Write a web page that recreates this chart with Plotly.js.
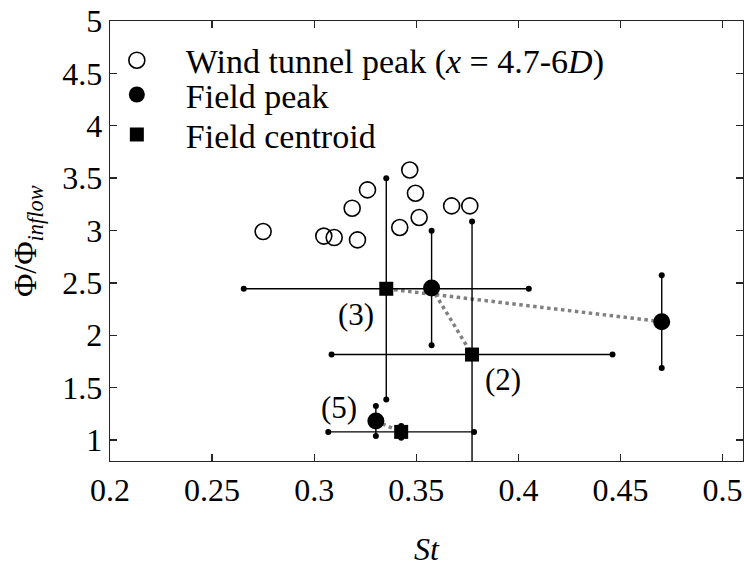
<!DOCTYPE html>
<html>
<head>
<meta charset="utf-8">
<script src="https://cdn.plot.ly/plotly-3.0.1.min.js"></script>
<style>html,body{margin:0;padding:0;background:#fff;}#chart{width:744px;height:567px;}</style>
</head>
<body>
<div id="chart"></div>
<script>
// Wind tunnel peaks (x = 4.7-6D)
const wtSt  = [0.2750, 0.3047, 0.3098, 0.3212, 0.3186, 0.3261, 0.3468, 0.3496, 0.3514, 0.3419, 0.3673, 0.3762];
const wtPhi = [2.990, 2.947, 2.933, 2.911, 3.213, 3.388, 3.578, 3.356, 3.124, 3.029, 3.235, 3.235];

// Field cases
const caseLabels = ['(3)', '(2)', '(5)'];
const peakSt     = [0.4702, 0.3575, 0.3302];
const peakPhi    = [2.130, 2.451, 1.181];
const peakPhiErr = [0.443, 0.547, 0.143];
const centSt     = [0.3353, 0.3773, 0.3426];
const centStErr  = [0.0698, 0.0688, 0.0357];
const centPhi    = [2.444, 1.816, 1.078];
const centPhiErr = [1.056, 1.270, 0.055];
const labelSt    = [0.3204, 0.3924, 0.3121];
const labelPhi   = [2.197, 1.577, 1.310];

// Axis ticks
const xTickVals = [0.2, 0.25, 0.3, 0.35, 0.4, 0.45, 0.5];
const xTickText = ['0.2', '0.25', '0.3', '0.35', '0.4', '0.45', '0.5'];
const yTickVals = [1, 1.5, 2, 2.5, 3, 3.5, 4, 4.5, 5];
const yTickText = ['1', '1.5', '2', '2.5', '3', '3.5', '4', '4.5', '5'];

const FONT = 'Liberation Serif';
const AX = '#262626';
const traces = [];

// dotted connectors peak -> centroid
caseLabels.forEach((c, i) => {
  traces.push({
    x: [peakSt[i], centSt[i]], y: [peakPhi[i], centPhi[i]],
    mode: 'lines', line: {color: '#808080', width: 3.5, dash: 'dot'},
    showlegend: false, hoverinfo: 'skip'
  });
});
// centroid error bars
traces.push({
  x: centSt, y: centPhi, mode: 'lines', line: {width: 0}, showlegend: false, hoverinfo: 'skip',
  error_x: {type: 'data', array: centStErr, symmetric: true, width: 0, thickness: 1.4, color: '#000'},
  error_y: {type: 'data', array: centPhiErr, symmetric: true, width: 0, thickness: 1.4, color: '#000'}
});
// peak error bars
traces.push({
  x: peakSt, y: peakPhi, mode: 'lines', line: {width: 0}, showlegend: false, hoverinfo: 'skip',
  error_y: {type: 'data', array: peakPhiErr, symmetric: true, width: 0, thickness: 1.4, color: '#000'}
});
// end dots of the error bars
const capX = [], capY = [];
centSt.forEach((s, i) => {
  capX.push(s - centStErr[i], s + centStErr[i], s, s);
  capY.push(centPhi[i], centPhi[i], centPhi[i] - centPhiErr[i], centPhi[i] + centPhiErr[i]);
});
peakSt.forEach((s, i) => {
  capX.push(s, s);
  capY.push(peakPhi[i] - peakPhiErr[i], peakPhi[i] + peakPhiErr[i]);
});
traces.push({
  x: capX, y: capY, mode: 'markers', marker: {symbol: 'circle', size: 6, color: '#000'},
  showlegend: false, hoverinfo: 'skip'
});
// wind tunnel peaks
traces.push({
  x: wtSt, y: wtPhi, mode: 'markers', name: 'Wind tunnel peak (<i>x</i> = 4.7-6<i>D</i>)',
  marker: {symbol: 'circle-open', size: 16, color: '#000', line: {width: 1.6, color: '#000'}},
  legend: 'legend'
});
// field peaks
traces.push({
  x: peakSt, y: peakPhi, mode: 'markers', name: 'Field peak',
  marker: {symbol: 'circle', size: 17, color: '#000'}, legend: 'legend2'
});
// field centroids
traces.push({
  x: centSt, y: centPhi, mode: 'markers', name: 'Field centroid',
  marker: {symbol: 'square', size: 14, color: '#000'}, legend: 'legend3'
});

const annotations = caseLabels.map((c, i) => ({
  x: labelSt[i], y: labelPhi[i], xref: 'x', yref: 'y', text: c, showarrow: false,
  font: {family: FONT, size: 31, color: '#000'}
}));
// axis titles
annotations.push({
  xref: 'paper', yref: 'paper', x: 0.5, y: -0.2, yanchor: 'middle', text: '<i>St</i>', showarrow: false,
  font: {family: FONT, size: 32, color: '#000'}
});
annotations.push({
  xref: 'paper', yref: 'paper', x: -0.131, y: 0.5, xanchor: 'center', yanchor: 'middle', textangle: -90,
  text: 'Φ/Φ<sub><i>inflow</i></sub>', showarrow: false,
  font: {family: FONT, size: 32, color: '#000'}
});

const legBase = {
  xanchor: 'left', yanchor: 'middle', bgcolor: 'rgba(0,0,0,0)', borderwidth: 0,
  font: {family: FONT, size: 34, color: '#000'}, itemwidth: 88, x: -0.035
};

const layout = {
  width: 744, height: 567,
  margin: {l: 110, r: 1, t: 21, b: 106, pad: 0},
  paper_bgcolor: '#fff', plot_bgcolor: '#fff',
  font: {family: FONT, size: 32, color: '#000'},
  showlegend: true,
  legend:  Object.assign({}, legBase, {y: 0.910}),
  legend2: Object.assign({}, legBase, {y: 0.832}),
  legend3: Object.assign({}, legBase, {y: 0.741}),
  xaxis: {
    range: [0.2, 0.51], tickvals: xTickVals, ticktext: xTickText,
    showline: true, mirror: 'ticks', linecolor: AX, linewidth: 1.3,
    ticks: 'inside', ticklen: 7, tickwidth: 1.3, tickcolor: AX,
    showgrid: false, zeroline: false,
    tickfont: {family: FONT, size: 32, color: '#000'}
  },
  yaxis: {
    range: [0.8, 5], tickvals: yTickVals, ticktext: yTickText,
    showline: true, mirror: 'ticks', linecolor: AX, linewidth: 1.3,
    ticks: 'inside', ticklen: 7, tickwidth: 1.3, tickcolor: AX,
    showgrid: false, zeroline: false,
    tickfont: {family: FONT, size: 32, color: '#000'}
  },
  annotations: annotations,
  hovermode: false
};

Plotly.newPlot('chart', traces, layout, {displayModeBar: false, staticPlot: true});
</script>
</body>
</html>
